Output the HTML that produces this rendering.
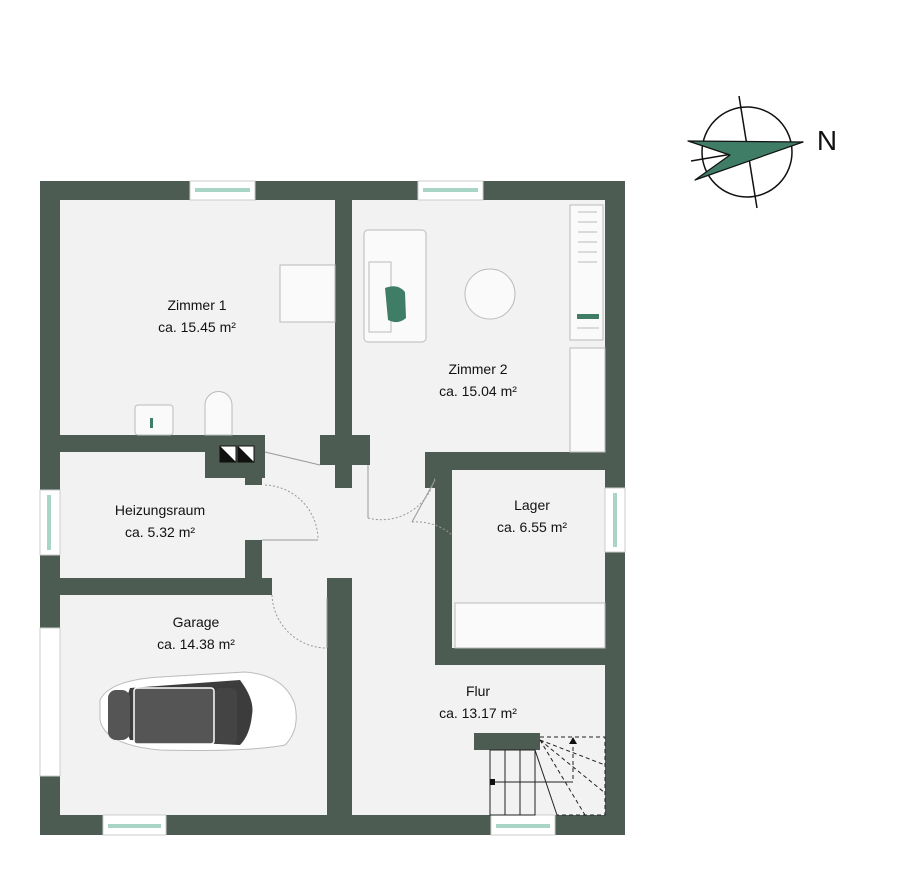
<!DOCTYPE html>
<html><head><meta charset="utf-8"><style>
html,body{margin:0;padding:0;background:#fff;}
svg{display:block;}
text{font-family:"Liberation Sans",sans-serif;font-size:14px;fill:#111;text-anchor:middle;}
</style></head><body>
<svg width="900" height="876" viewBox="0 0 900 876" xmlns="http://www.w3.org/2000/svg">
<rect width="900" height="876" fill="#fff"/>
<!-- compass -->
<circle cx="747" cy="152" r="45" fill="none" stroke="#111" stroke-width="1.5"/>
<line x1="739" y1="96" x2="757" y2="208" stroke="#111" stroke-width="1.5"/>
<line x1="691" y1="161" x2="803" y2="142" stroke="#111" stroke-width="1.5"/>
<polygon points="688,141 803,142 695,180 730,155" fill="#3f7d66" stroke="#111" stroke-width="1.2" stroke-linejoin="round"/>
<text x="827" y="150" style="font-size:28px">N</text>
<!-- outer walls -->
<rect x="40" y="181" width="585" height="654" fill="#4d5c53"/>
<!-- floors -->
<g fill="#f2f2f2">
<rect x="60" y="200" width="275" height="235"/>
<rect x="352" y="200" width="253" height="252"/>
<rect x="60" y="452" width="185" height="126"/>
<rect x="60" y="595" width="267" height="220"/>
<rect x="452" y="470" width="153" height="178"/>
<rect x="352" y="665" width="253" height="150"/>
<rect x="262" y="452" width="60" height="126"/>
<rect x="262" y="488" width="90" height="90"/>
<rect x="245" y="485" width="20" height="55"/>
<rect x="272" y="578" width="55" height="237"/>
<rect x="370" y="452" width="55" height="213"/>
<rect x="352" y="488" width="83" height="177"/>
<rect x="265" y="435" width="55" height="17"/>
<rect x="322" y="452" width="48" height="38"/>
</g>
<!-- interior walls -->
<g fill="#4d5c53">
<rect x="335" y="200" width="17" height="288"/>
<rect x="320" y="435" width="50" height="30"/>
<rect x="60" y="435" width="205" height="17"/>
<rect x="205" y="435" width="60" height="43"/>
<rect x="248" y="470" width="14" height="15"/>
<rect x="60" y="578" width="212" height="17"/>
<rect x="245" y="540" width="17" height="55"/>
<rect x="327" y="578" width="25" height="237"/>
<rect x="425" y="452" width="180" height="18"/>
<rect x="425" y="452" width="27" height="26"/>
<rect x="435" y="535" width="17" height="130"/>
<rect x="435" y="648" width="170" height="17"/>
<rect x="474" y="733" width="66" height="17"/>
</g>
<!-- chimney -->
<rect x="220" y="446" width="16" height="16" fill="#fff" stroke="#111"/><polygon points="220,446 236,462 220,462" fill="#111"/>
<rect x="238" y="446" width="16" height="16" fill="#fff" stroke="#111"/><polygon points="238,446 254,462 238,462" fill="#111"/>
<!-- windows -->
<g fill="#fff" stroke="#ccc" stroke-width="1">
<rect x="190" y="181" width="65" height="19"/><rect x="418" y="181" width="65" height="19"/>
<rect x="103" y="815" width="63" height="20"/><rect x="491" y="815" width="64" height="20"/>
<rect x="40" y="490" width="20" height="65"/><rect x="605" y="488" width="20" height="64"/>
<rect x="40" y="628" width="20" height="148"/>
</g>
<g fill="#a8d5c5">
<rect x="195" y="188" width="55" height="4"/><rect x="423" y="188" width="55" height="4"/>
<rect x="108" y="824" width="53" height="4"/><rect x="496" y="824" width="54" height="4"/>
<rect x="47" y="495" width="4" height="55"/><rect x="613" y="493" width="4" height="54"/>
</g>
<!-- doors -->
<g stroke="#999" fill="none" stroke-width="1">
<line x1="265" y1="452" x2="320" y2="465"/>
<path d="M265 485 A55 55 0 0 1 318 540" stroke-dasharray="2,2"/>
<line x1="262" y1="540" x2="318" y2="540"/>
<path d="M272 595 A55 55 0 0 0 327 648" stroke-dasharray="2,2"/>
<line x1="327" y1="598" x2="327" y2="648"/>
<line x1="368" y1="465" x2="368" y2="518"/>
<path d="M368 518 A55 55 0 0 0 435 478" stroke-dasharray="2,2"/>
<line x1="435" y1="480" x2="412" y2="522"/>
<path d="M412 522 A55 55 0 0 1 452 535" stroke-dasharray="2,2"/>
</g>
<!-- furniture -->
<g fill="#fafafa" stroke="#bbb" stroke-width="1">
<rect x="280" y="265" width="55" height="57"/>
<rect x="135" y="405" width="38" height="30" rx="3"/>
<path d="M205 435 V405 A13 13 0 0 1 232 405 V435 Z"/>
<rect x="364" y="230" width="62" height="112" rx="4"/>
<rect x="369" y="262" width="22" height="70"/>
<circle cx="490" cy="294" r="25"/>
<rect x="570" y="205" width="33" height="135"/>
<rect x="570" y="348" width="35" height="104"/>
<rect x="455" y="603" width="150" height="45"/>
</g>
<g stroke="#bbb" fill="none"><line x1="578" y1="212" x2="597" y2="212"/><line x1="578" y1="222" x2="597" y2="222"/><line x1="578" y1="232" x2="597" y2="232"/><line x1="578" y1="242" x2="597" y2="242"/><line x1="578" y1="252" x2="597" y2="252"/><line x1="578" y1="262" x2="597" y2="262"/><line x1="577" y1="318" x2="599" y2="318"/><line x1="577" y1="328" x2="599" y2="328"/></g>
<rect x="577" y="314" width="22" height="5" fill="#3f7d66"/>
<path d="M385 288 Q398 283 405 292 L406 318 Q398 325 388 320 Z" fill="#3f7d66"/>
<rect x="150" y="418" width="3" height="10" fill="#3f7d66"/>
<!-- car -->
<g>
<path d="M100 700 Q110 680 160 677 L245 672 Q285 675 295 705 Q300 730 285 745 Q250 752 160 750 Q105 745 100 720 Z" fill="#fff" stroke="#bbb"/>
<path d="M130 688 L240 680 Q255 700 252 715 Q250 735 240 745 L130 740 Q120 715 130 688 Z" fill="#3c3c3c"/>
<rect x="108" y="690" width="22" height="50" rx="8" fill="#555"/>
<rect x="134" y="688" width="80" height="56" rx="3" fill="#555" stroke="#fff" stroke-width="1.5"/>
<rect x="215" y="688" width="22" height="56" rx="6" fill="#444"/>
</g>
<!-- stairs -->
<g stroke="#222" fill="none" stroke-width="1">
<rect x="490" y="750" width="45" height="65"/>
<line x1="505" y1="750" x2="505" y2="815"/><line x1="520" y1="750" x2="520" y2="815"/>
<line x1="535" y1="750" x2="557" y2="815"/>
<line x1="492" y1="782" x2="573" y2="782"/>
<g stroke-dasharray="4,3"><path d="M540 737 H605 V815 H557"/><line x1="573" y1="740" x2="573" y2="782"/>
<line x1="540" y1="740" x2="605" y2="765"/><line x1="540" y1="740" x2="605" y2="793"/><line x1="540" y1="740" x2="585" y2="815"/></g>
</g>
<polygon points="573,737 569,744 577,744" fill="#111"/><rect x="490" y="779" width="5" height="6" fill="#111"/>
<!-- labels -->
<text x="197" y="310">Zimmer 1</text><text x="197" y="332">ca. 15.45 m²</text>
<text x="478" y="374">Zimmer 2</text><text x="478" y="396">ca. 15.04 m²</text>
<text x="160" y="515">Heizungsraum</text><text x="160" y="537">ca. 5.32 m²</text>
<text x="532" y="510">Lager</text><text x="532" y="532">ca. 6.55 m²</text>
<text x="196" y="627">Garage</text><text x="196" y="649">ca. 14.38 m²</text>
<text x="478" y="696">Flur</text><text x="478" y="718">ca. 13.17 m²</text>
</svg>
</body></html>
